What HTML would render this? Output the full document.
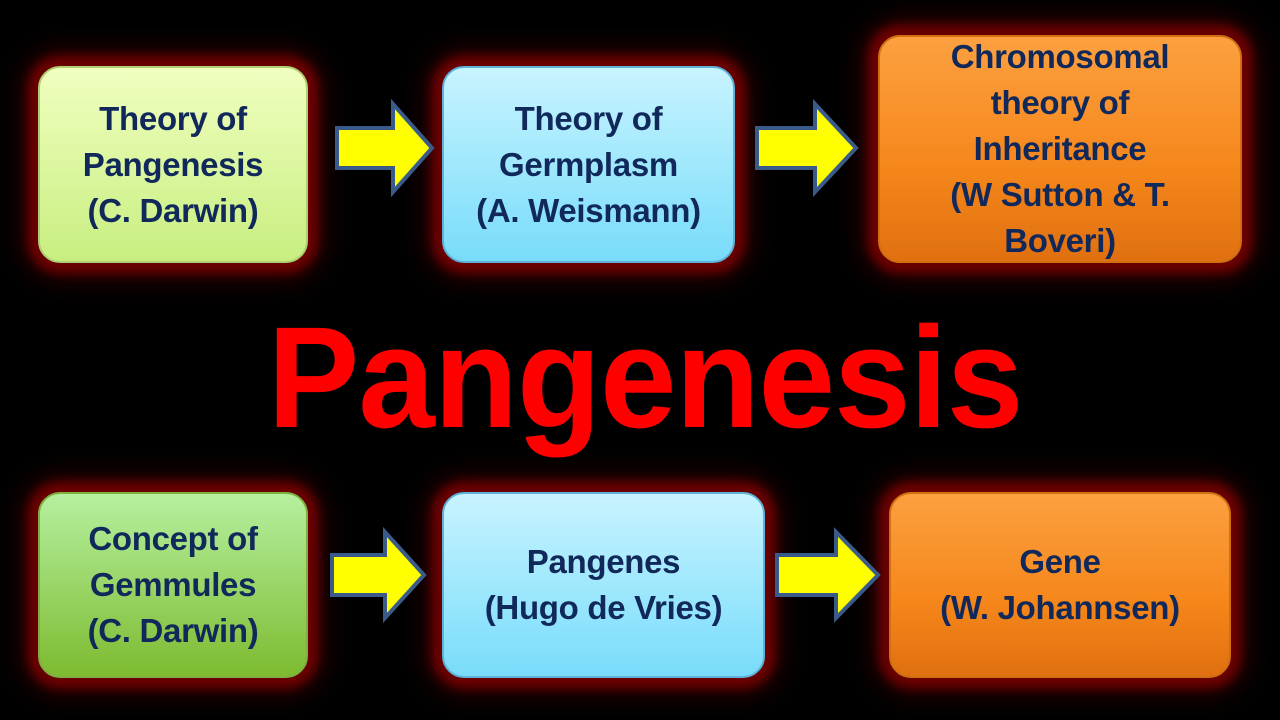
<!DOCTYPE html>
<html><head><meta charset="utf-8"><style>
body{margin:0;width:1280px;height:720px;background:#000;overflow:hidden;position:relative;font-family:"Liberation Sans",sans-serif}
.b{position:absolute;border-radius:22px;display:flex;align-items:center;justify-content:center;text-align:center;color:#10285a;font-weight:bold;font-size:33px;line-height:46px;box-shadow:0 0 10px 10px rgba(120,0,0,0.85),0 0 26px 16px rgba(80,0,0,0.6);letter-spacing:-0.3px}
.g1{background:linear-gradient(#f0ffc0,#c8ee80);border:2px solid #b0d070}
.g2{background:linear-gradient(#b6f0a0,#7dbb30);border:2px solid #80b040}
.bl{background:linear-gradient(#c8f4ff,#78dcfa);border:2px solid #60b0d8}
.or{background:linear-gradient(#fca040,#f5861a 60%,#e07010);border:2px solid #d07010}
svg{position:absolute}
.t{position:absolute;left:5px;width:1280px;top:298px;text-align:center;color:#ff0000;font-weight:bold;font-size:144px;line-height:160px;transform:scaleX(0.955);letter-spacing:-1px}
</style></head><body>
<div class="b g1" style="left:38px;top:66px;width:266px;height:193px">Theory of<br>Pangenesis<br>(C. Darwin)</div>
<div class="b bl" style="left:442px;top:66px;width:289px;height:193px">Theory of<br>Germplasm<br>(A. Weismann)</div>
<div class="b or" style="left:878px;top:35px;width:360px;height:224px">Chromosomal<br>theory of<br>Inheritance<br>(W Sutton &amp; T.<br>Boveri)</div>
<div class="b g2" style="left:38px;top:492px;width:266px;height:182px">Concept of<br>Gemmules<br>(C. Darwin)</div>
<div class="b bl" style="left:442px;top:492px;width:319px;height:182px">Pangenes<br>(Hugo de Vries)</div>
<div class="b or" style="left:889px;top:492px;width:338px;height:182px">Gene<br>(W. Johannsen)</div>
<div class="t">Pangenesis</div>
<svg width="1280" height="720" style="left:0;top:0">
<g fill="#ffff00" stroke="#3a5a8a" stroke-width="4" stroke-linejoin="miter">
<polygon points="337,128 393,128 393,104 432,148 393,192 393,168 337,168"/>
<polygon points="757,128 815,128 815,104 856,148 815,192 815,168 757,168"/>
<polygon points="332,555 385,555 385,532 424,575 385,618 385,595 332,595"/>
<polygon points="777,555 836,555 836,532 878,575 836,618 836,595 777,595"/>
</g></svg>
</body></html>
